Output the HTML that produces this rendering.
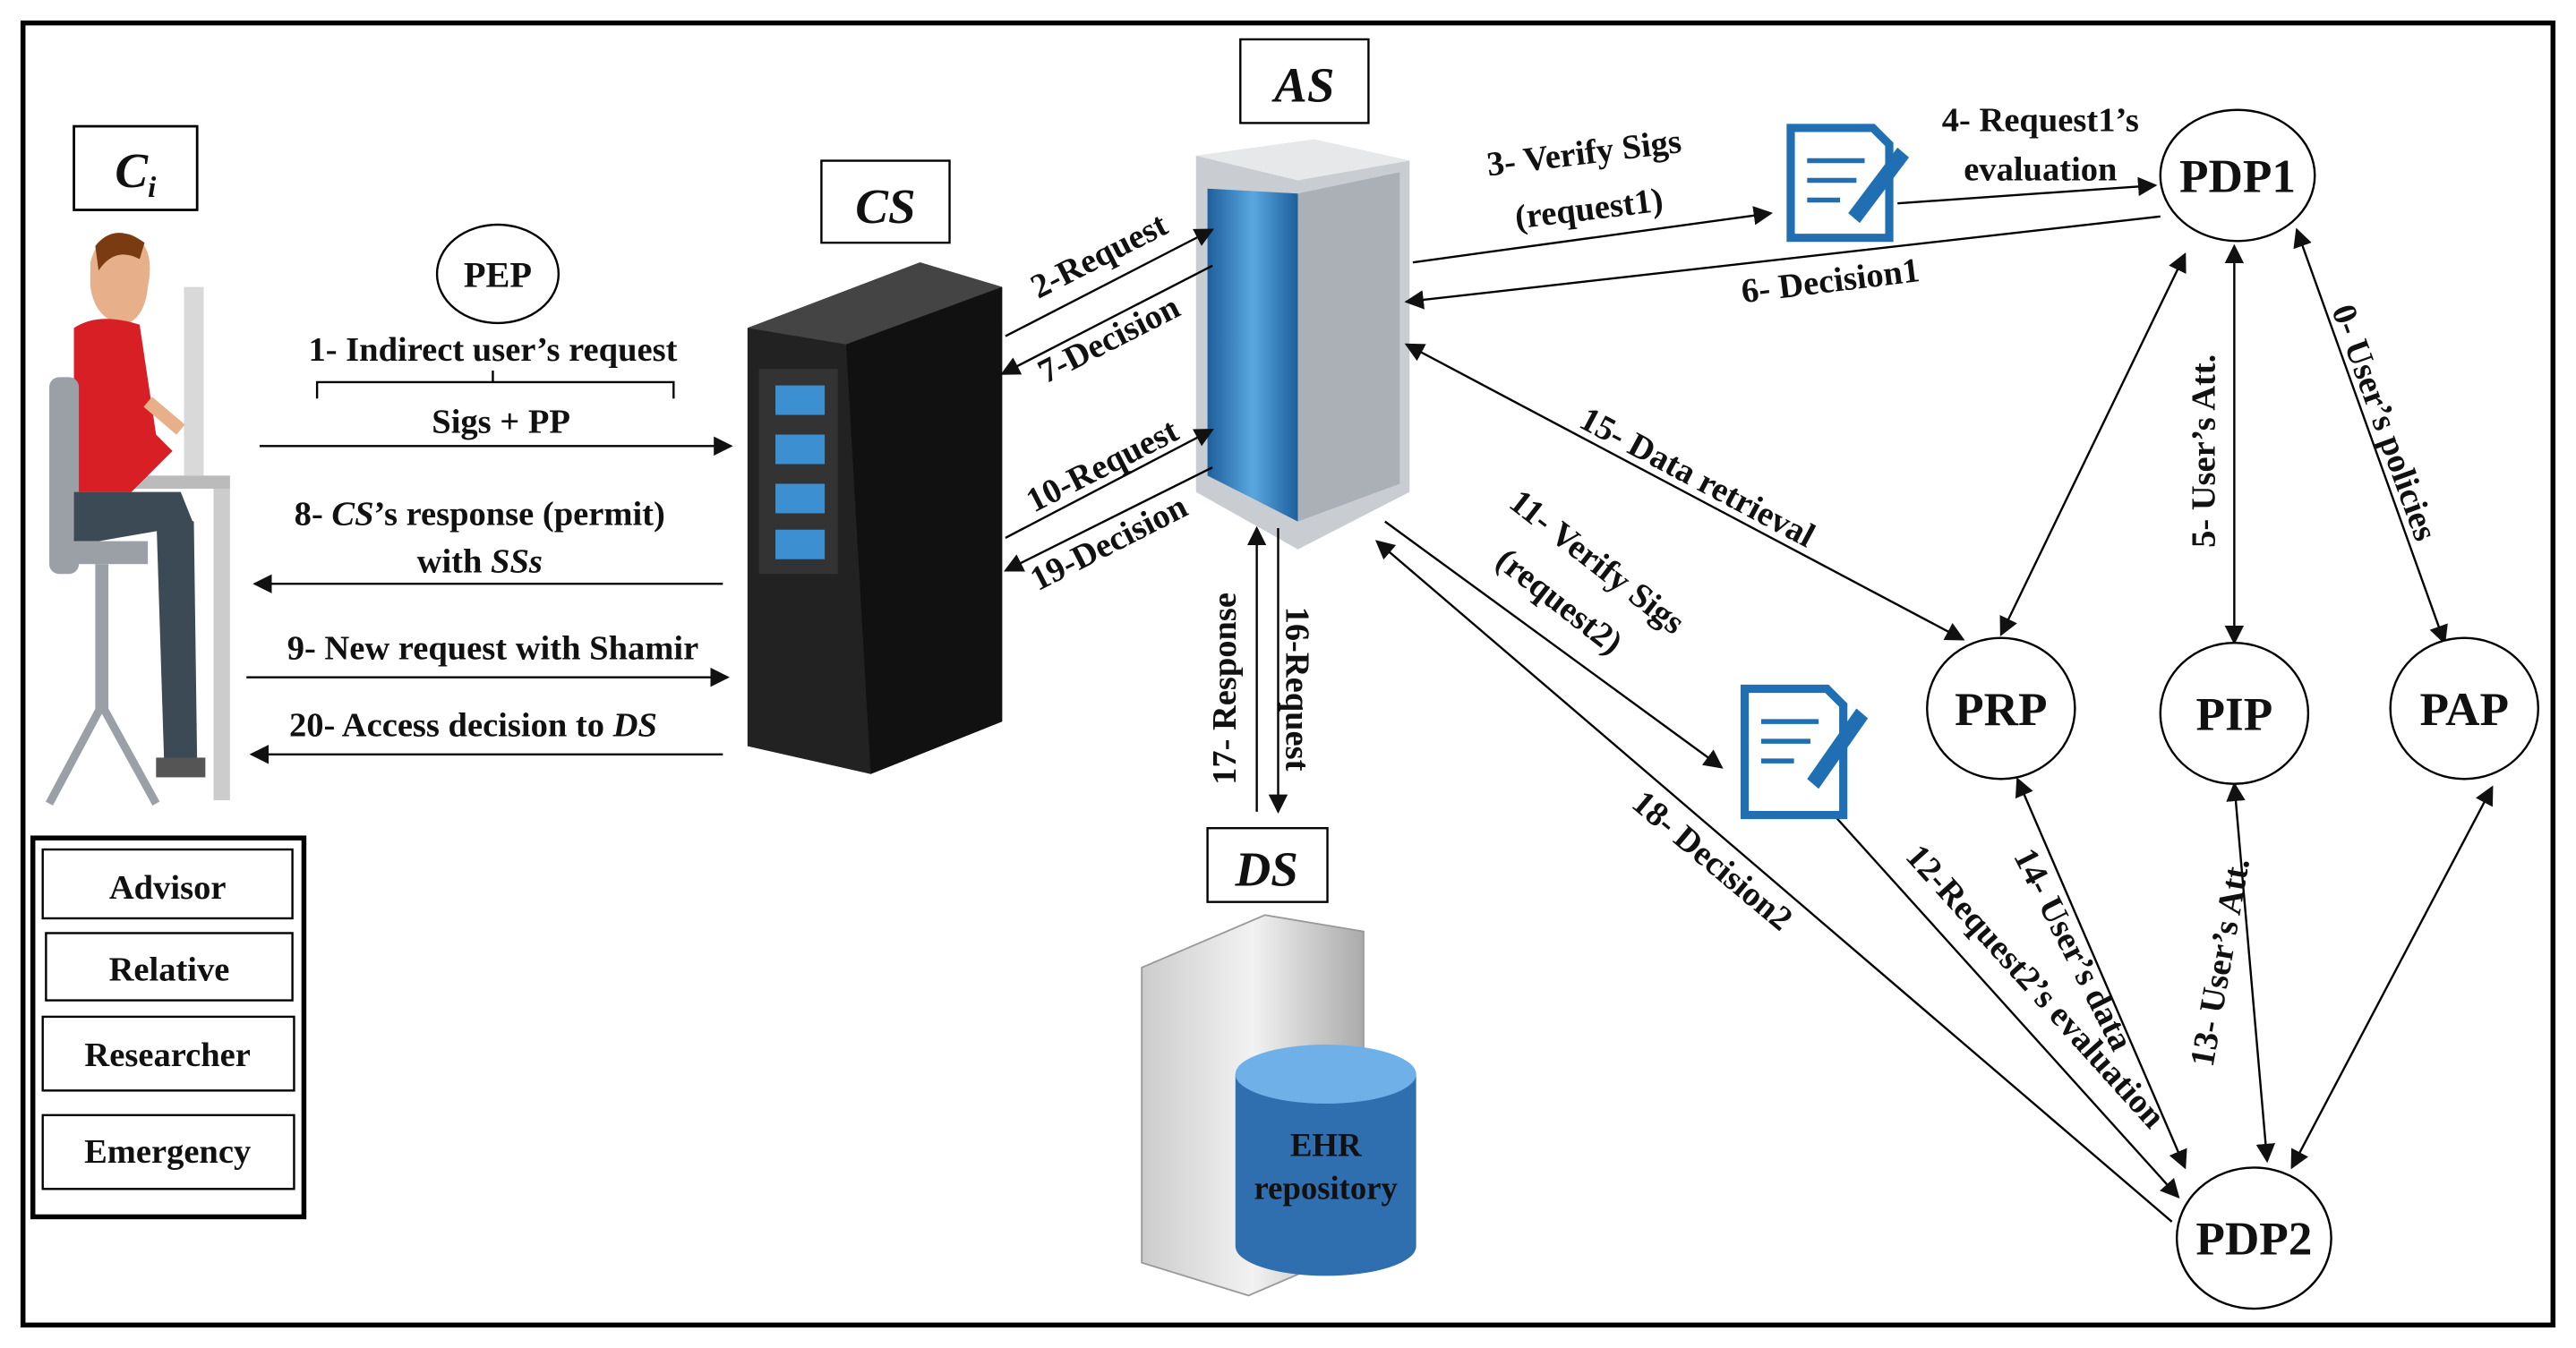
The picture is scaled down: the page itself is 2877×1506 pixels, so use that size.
<!DOCTYPE html>
<html><head><meta charset="utf-8"><style>
html,body{margin:0;padding:0;background:#fff;}
svg{display:block}
text{font-family:"Liberation Serif",serif;font-weight:bold;fill:#111;}
</style></head><body>
<svg width="2877" height="1506" viewBox="0 0 1568 822" preserveAspectRatio="none" xmlns="http://www.w3.org/2000/svg">
<defs>
<marker id="a" viewBox="0 0 10 10" refX="9" refY="5" markerWidth="9" markerHeight="9" orient="auto-start-reverse"><path d="M0,0 L10,5 L0,10 z" fill="#111"/></marker>
<linearGradient id="blue" x1="0" x2="1"><stop offset="0" stop-color="#1d5f9c"/><stop offset="0.5" stop-color="#5aa7e0"/><stop offset="1" stop-color="#1d5f9c"/></linearGradient>
<linearGradient id="grey" x1="0" x2="1"><stop offset="0" stop-color="#ccc"/><stop offset="0.5" stop-color="#f2f2f2"/><stop offset="1" stop-color="#aaa"/></linearGradient>
</defs>
<rect x="0" y="0" width="1568" height="822" fill="#fff"/>
<rect x="14" y="14" width="1540" height="794" fill="none" stroke="#000" stroke-width="3"/>

<rect x="45" y="77" width="75" height="51" fill="#fff" stroke="#000" stroke-width="1.5"/>
<text x="70" y="114" font-size="30" font-style="italic">C</text><text x="90" y="120" font-size="18" font-style="italic">i</text>

<g>
<rect x="112" y="175" width="12" height="115" fill="#d9d9d9"/>
<rect x="80" y="290" width="60" height="8" fill="#bbb"/>
<rect x="130" y="298" width="10" height="190" fill="#ccc"/>
<path d="M55,160 Q60,140 80,143 Q95,150 90,175 Q88,195 75,198 Q58,195 55,175z" fill="#e8b08a"/>
<path d="M58,150 Q70,135 88,148 L85,158 Q70,150 60,165z" fill="#7a3b12"/>
<path d="M45,200 Q60,190 85,198 L95,265 L105,275 L80,300 L45,300z" fill="#d81f26"/>
<rect x="30" y="230" width="18" height="120" rx="6" fill="#9aa0a6"/>
<path d="M45,300 L110,300 L118,320 L60,330 L45,330z" fill="#3c4a55"/>
<path d="M95,310 L118,318 L120,465 L100,468z" fill="#3c4a55"/>
<rect x="95" y="462" width="30" height="12" fill="#555"/>
<rect x="35" y="330" width="55" height="14" fill="#9aa0a6"/>
<rect x="58" y="344" width="8" height="90" fill="#9aa0a6"/>
<path d="M30,490 L62,430 L95,490" stroke="#9aa0a6" stroke-width="5" fill="none"/>
<path d="M90,245 L110,262" stroke="#e8b08a" stroke-width="8"/>
</g>

<ellipse cx="303" cy="167" rx="37" ry="30" fill="#fff" stroke="#000" stroke-width="1.3"/>
<text x="303" y="175" font-size="22" text-anchor="middle">PEP</text>
<text x="300" y="220" font-size="21" text-anchor="middle">1-  Indirect user’s request</text>
<path d="M193,243 L193,233 L300,233 L300,226 M300,233 L410,233 L410,243" fill="none" stroke="#000" stroke-width="1.3"/>
<text x="305" y="264" font-size="21" text-anchor="middle">Sigs + PP</text>
<line x1="158" y1="272" x2="445" y2="272" stroke="#000" stroke-width="1.3" marker-end="url(#a)"/>
<text x="292" y="320" font-size="21" text-anchor="middle">8- <tspan font-style="italic">CS</tspan>’s response (permit)</text>
<text x="292" y="349" font-size="21" text-anchor="middle">with <tspan font-style="italic">SSs</tspan></text>
<line x1="440" y1="356" x2="155" y2="356" stroke="#000" stroke-width="1.3" marker-end="url(#a)"/>
<text x="300" y="402" font-size="21" text-anchor="middle">9- New request with Shamir</text>
<line x1="150" y1="413" x2="443" y2="413" stroke="#000" stroke-width="1.3" marker-end="url(#a)"/>
<text x="288" y="449" font-size="21" text-anchor="middle">20- Access decision to <tspan font-style="italic">DS</tspan></text>
<line x1="440" y1="460" x2="153" y2="460" stroke="#000" stroke-width="1.3" marker-end="url(#a)"/>

<rect x="20" y="511" width="165" height="231" fill="#fff" stroke="#000" stroke-width="3"/>
<rect x="26" y="518" width="152" height="42" fill="#fff" stroke="#000" stroke-width="1.3"/>
<text x="102" y="548" font-size="21" text-anchor="middle">Advisor</text>
<rect x="28" y="569" width="150" height="41" fill="#fff" stroke="#000" stroke-width="1.3"/>
<text x="103" y="598" font-size="21" text-anchor="middle">Relative</text>
<rect x="26" y="620" width="153" height="45" fill="#fff" stroke="#000" stroke-width="1.3"/>
<text x="102" y="650" font-size="21" text-anchor="middle">Researcher</text>
<rect x="26" y="680" width="153" height="45" fill="#fff" stroke="#000" stroke-width="1.3"/>
<text x="102" y="709" font-size="21" text-anchor="middle">Emergency</text>

<rect x="500" y="98" width="78" height="50" fill="#fff" stroke="#000" stroke-width="1.3"/>
<text x="539" y="136" font-size="30" font-style="italic" text-anchor="middle">CS</text>
<path d="M455,200 L560,160 L610,175 L610,440 L530,472 L455,455z" fill="#222"/>
<path d="M455,200 L560,160 L610,175 L515,210z" fill="#444"/>
<path d="M515,210 L610,175 L610,440 L530,472z" fill="#111"/>
<rect x="462" y="225" width="48" height="125" fill="#333"/>
<rect x="472" y="235" width="30" height="18" fill="#3c8fd0"/><rect x="472" y="265" width="30" height="18" fill="#3c8fd0"/>
<rect x="472" y="295" width="30" height="18" fill="#3c8fd0"/><rect x="472" y="323" width="30" height="18" fill="#3c8fd0"/>

<rect x="755" y="24" width="78" height="51" fill="#fff" stroke="#000" stroke-width="1.3"/>
<text x="794" y="62" font-size="30" font-style="italic" text-anchor="middle">AS</text>
<path d="M728,95 L800,85 L858,98 L858,300 L790,335 L728,300z" fill="#c9ccd0"/>
<path d="M728,95 L800,85 L858,98 L790,110z" fill="#e6e8ea"/>
<path d="M735,115 L790,118 L790,318 L735,290z" fill="url(#blue)"/>
<path d="M790,118 L852,105 L852,295 L790,318z" fill="#aab0b6"/>

<rect x="735" y="505" width="73" height="45" fill="#fff" stroke="#000" stroke-width="1.3"/>
<text x="771" y="540" font-size="30" font-style="italic" text-anchor="middle">DS</text>
<path d="M695,590 L770,558 L830,568 L830,760 L760,790 L695,770z" fill="url(#grey)" stroke="#999"/>
<path d="M752,655 L752,760 A55,18 0 0 0 862,760 L862,655z" fill="#2f6fb0"/>
<ellipse cx="807" cy="655" rx="55" ry="18" fill="#6fb0e8"/>
<text x="807" y="705" font-size="20" text-anchor="middle">EHR</text>
<text x="807" y="731" font-size="20" text-anchor="middle">repository</text>

<g stroke="#000" stroke-width="1.3" fill="none">
<line x1="612" y1="205" x2="738" y2="140" marker-end="url(#a)"/>
<line x1="738" y1="162" x2="610" y2="228" marker-end="url(#a)"/>
<line x1="612" y1="328" x2="738" y2="262" marker-end="url(#a)"/>
<line x1="738" y1="285" x2="612" y2="348" marker-end="url(#a)"/>
<line x1="765" y1="495" x2="765" y2="322" marker-end="url(#a)"/>
<line x1="778" y1="322" x2="778" y2="495" marker-end="url(#a)"/>
<line x1="860" y1="160" x2="1078" y2="130" marker-end="url(#a)"/>
<line x1="1155" y1="124" x2="1312" y2="113" marker-end="url(#a)"/>
<line x1="1315" y1="132" x2="856" y2="184" marker-end="url(#a)"/>
<line x1="1330" y1="155" x2="1218" y2="387" marker-start="url(#a)" marker-end="url(#a)"/>
<line x1="1360" y1="150" x2="1360" y2="392" marker-start="url(#a)" marker-end="url(#a)"/>
<line x1="1398" y1="140" x2="1488" y2="392" marker-start="url(#a)" marker-end="url(#a)"/>
<line x1="856" y1="210" x2="1195" y2="390" marker-start="url(#a)" marker-end="url(#a)"/>
<line x1="843" y1="318" x2="1048" y2="468" marker-end="url(#a)"/>
<line x1="1322" y1="745" x2="838" y2="330" marker-end="url(#a)"/>
<line x1="1110" y1="490" x2="1326" y2="730" marker-end="url(#a)"/>
<line x1="1228" y1="475" x2="1330" y2="712" marker-start="url(#a)" marker-end="url(#a)"/>
<line x1="1360" y1="478" x2="1380" y2="708" marker-start="url(#a)" marker-end="url(#a)"/>
<line x1="1517" y1="480" x2="1395" y2="712" marker-start="url(#a)" marker-end="url(#a)"/>
</g>

<g>
<path d="M1090,78 L1140,78 L1150,88 L1150,145 L1090,145z" fill="#fff" stroke="#1f6fb2" stroke-width="5"/>
<path d="M1100,98 H1135 M1100,110 H1130 M1100,122 H1120" stroke="#1f6fb2" stroke-width="3"/>
<path d="M1125,130 L1155,90 L1162,96 L1132,136z" fill="#1f6fb2"/>
<path d="M1062,420 L1112,420 L1122,430 L1122,497 L1062,497z" fill="#fff" stroke="#1f6fb2" stroke-width="5"/>
<path d="M1072,440 H1107 M1072,452 H1102 M1072,464 H1092" stroke="#1f6fb2" stroke-width="3"/>
<path d="M1100,475 L1130,432 L1137,438 L1107,481z" fill="#1f6fb2"/>
</g>

<g fill="#fff" stroke="#000" stroke-width="1.3">
<ellipse cx="1362" cy="107" rx="47" ry="40"/>
<ellipse cx="1218" cy="432" rx="45" ry="43"/>
<ellipse cx="1360" cy="435" rx="45" ry="43"/>
<ellipse cx="1500" cy="432" rx="45" ry="43"/>
<ellipse cx="1372" cy="755" rx="47" ry="43"/>
</g>
<text x="1362" y="117" font-size="29" text-anchor="middle">PDP1</text>
<text x="1218" y="442" font-size="29" text-anchor="middle">PRP</text>
<text x="1360" y="445" font-size="29" text-anchor="middle">PIP</text>
<text x="1500" y="442" font-size="29" text-anchor="middle">PAP</text>
<text x="1372" y="765" font-size="29" text-anchor="middle">PDP2</text>

<g font-size="21">
<text transform="translate(672,162) rotate(-27)" text-anchor="middle">2-Request</text>
<text transform="translate(678,213) rotate(-27)" text-anchor="middle">7-Decision</text>
<text transform="translate(674,290) rotate(-27)" text-anchor="middle">10-Request</text>
<text transform="translate(678,337) rotate(-27)" text-anchor="middle">19-Decision</text>
<text transform="translate(752,420) rotate(-90)" text-anchor="middle">17- Response</text>
<text transform="translate(783,420) rotate(90)" text-anchor="middle">16-Request</text>
<text transform="translate(965,100) rotate(-7)" text-anchor="middle">3- Verify Sigs</text>
<text transform="translate(968,134) rotate(-7)" text-anchor="middle">(request1)</text>
<text x="1242" y="80" text-anchor="middle">4- Request1’s</text>
<text x="1242" y="110" text-anchor="middle">evaluation</text>
<text transform="translate(1115,178) rotate(-7)" text-anchor="middle">6- Decision1</text>
<text transform="translate(1445,260) rotate(70)" text-anchor="middle">0- User’s policies</text>
<text transform="translate(1348,275) rotate(-90)" text-anchor="middle">5- User’s Att.</text>
<text transform="translate(1030,297) rotate(28)" text-anchor="middle">15- Data retrieval</text>
<text transform="translate(968,348) rotate(38)" text-anchor="middle">11- Verify Sigs</text>
<text transform="translate(945,372) rotate(38)" text-anchor="middle">(request2)</text>
<text transform="translate(1038,530) rotate(40)" text-anchor="middle">18- Decision2</text>
<text transform="translate(1234,606) rotate(48)" text-anchor="middle">12-Request2’s evaluation</text>
<text transform="translate(1256,582) rotate(63)" text-anchor="middle">14- User’s data</text>
<text transform="translate(1358,588) rotate(-80)" text-anchor="middle">13- User’s Att.</text>
</g>
</svg>
</body></html>
